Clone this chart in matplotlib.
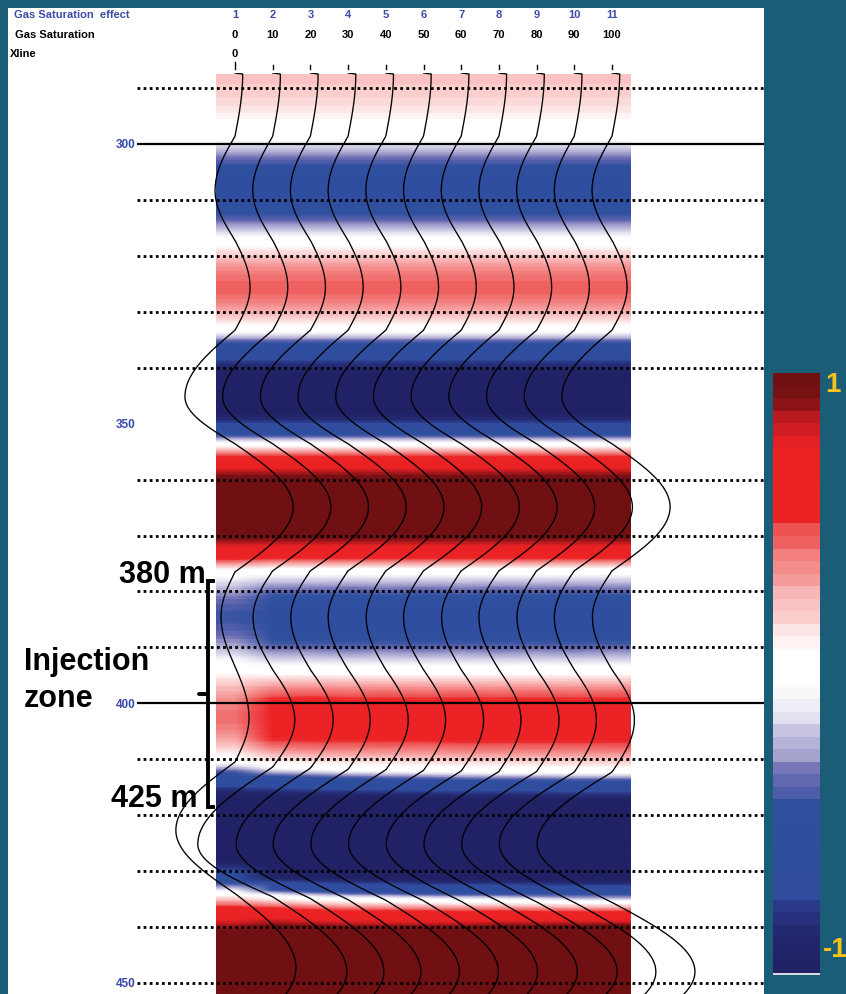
import numpy as np
import matplotlib
matplotlib.use("Agg")
import matplotlib.pyplot as plt
from matplotlib.colors import LinearSegmentedColormap, FuncNorm
from matplotlib.transforms import blended_transform_factory
from matplotlib.lines import Line2D
from matplotlib.patches import Rectangle

# ---------------- data ----------------
trace_no = [1, 2, 3, 4, 5, 6, 7, 8, 9, 10, 11]
gas_saturation = [0, 10, 20, 30, 40, 50, 60, 70, 80, 90, 100]
xline_label = "0"
depth_ticks = [300, 350, 400, 450]
dotted_depths = [290, 310, 320, 330, 340, 360, 370, 380, 390, 410, 420, 430, 440, 450]
solid_depths = [300, 400]

# shallow wavelet (same on every trace): knot depths (m) and amplitudes (extrema / zero crossings)
shallow_depth = [287.4, 298.6, 308.3, 317.2, 325.6, 333.3, 345.2, 353.6, 364.9]
shallow_amp = [0.22, 0.0, -0.57, 0.0, 0.43, 0.0, -1.43, 0.0, 1.66]

# injection zone and below, per trace
zero_a_depth = [376.5, 376.3, 376.3, 376.3, 376.3, 376.3, 376.3, 376.3, 376.3, 376.3, 376.3]
trough_a_depth = [384.5, 384.6, 384.6, 384.6, 384.6, 384.6, 384.6, 384.6, 384.6, 384.6, 384.6]
trough_a_amp = [-0.40, -0.56, -0.56, -0.57, -0.56, -0.57, -0.56, -0.57, -0.56, -0.57, -0.56]
zero_b_depth = [393.4, 394.0, 394.0, 394.0, 394.0, 394.0, 394.0, 394.0, 394.0, 394.0, 394.0]
peak_a_depth = [402.6, 403.0, 403.0, 403.0, 403.0, 403.0, 403.0, 403.0, 403.0, 403.0, 403.0]
peak_a_amp = [0.40, 0.63, 0.65, 0.63, 0.64, 0.63, 0.64, 0.63, 0.64, 0.63, 0.64]
zero_c_depth = [410.5, 411.4, 411.6, 411.8, 411.9, 412.0, 412.1, 412.2, 412.2, 412.3, 412.3]
trough_b_depth = [422.7, 425.2, 425.2, 425.2, 425.2, 425.2, 425.2, 425.2, 425.2, 425.2, 425.2]
trough_b_amp = [-1.69, -2.14, -2.12, -2.14, -2.14, -2.14, -2.14, -2.14, -2.14, -2.14, -2.14]
zero_d_depth = [434.0, 434.6, 434.9, 435.1, 435.2, 435.3, 435.4, 435.4, 435.5, 435.6, 435.6]
peak_b_depth = [447.3, 448.0, 448.0, 448.0, 448.0, 448.0, 448.0, 448.0, 448.0, 448.0, 448.0]
peak_b_amp = [1.74, 2.12, 2.10, 2.08, 2.10, 2.14, 2.18, 2.24, 2.30, 2.33, 2.37]
zero_e_depth = [460.0] * 11

# display gain curve of the colour section (|amplitude| -> colour value)
gain_in = [0.0, 0.1, 0.45, 0.6, 1.0, 1.25, 2.5]
gain_out = [0.0, 0.1, 0.47, 0.62, 0.82, 0.99, 1.0]

# ---------------- helpers ----------------
W, H = 846, 994
TEAL = "#1b5d77"
Z_TOP = 300 + (73 - 144) / 5.593
Z_BOT = 300 + (994 - 144) / 5.593
X_LEFT = 1 + (137 - 235) / 37.7
X_RIGHT = 1 + (764 - 235) / 37.7
GAIN = 35 / 37.7


def fx(x):
    return x / W


def fy(y):
    return 1 - y / H


def wavelet(zk, ak, z):
    out = np.zeros_like(z)
    for i in range(len(zk) - 1):
        z0, z1 = zk[i], zk[i + 1]
        a0, a1 = ak[i], ak[i + 1]
        m = (z >= z0) & (z <= z1)
        t = (z[m] - z0) / (z1 - z0)
        if a1 == 0:
            out[m] = a0 * np.cos(np.pi / 2 * t)
        else:
            out[m] = a1 * np.sin(np.pi / 2 * t)
    return out


def fwd(a):
    a = np.asarray(a, dtype=float)
    return np.sign(a) * np.interp(np.abs(a), gain_in, gain_out)


def inv(c):
    c = np.asarray(c, dtype=float)
    return np.sign(c) * np.interp(np.abs(c), gain_out, gain_in)


nodes = [
    (-1.00, "#212265"), (-0.88, "#24296f"), (-0.82, "#2a3584"), (-0.78, "#2f4c9e"),
    (-0.45, "#3050a0"), (-0.40, "#4c5ca9"), (-0.34, "#7272b6"), (-0.28, "#a09ecb"),
    (-0.20, "#cac8e2"), (-0.12, "#ebebf5"), (-0.06, "#ffffff"), (0.08, "#ffffff"),
    (0.14, "#fee6e6"), (0.22, "#fbcaca"), (0.30, "#f8aaaa"), (0.38, "#f48686"),
    (0.46, "#f06262"), (0.50, "#ee5050"), (0.53, "#ec2426"), (0.80, "#ea2224"),
    (0.86, "#c41c22"), (0.92, "#981418"), (0.97, "#761214"), (1.00, "#701012"),
]
cmap = LinearSegmentedColormap.from_list("seis", [((v + 1) / 2, c) for v, c in nodes], N=64)

plt.rcParams["font.family"] = ["Liberation Sans", "DejaVu Sans"]

fig = plt.figure(figsize=(W / 100, H / 100), dpi=100, facecolor=TEAL)
fig.add_artist(Rectangle((fx(8), 0), fx(764 - 8), 1 - 8 / H, transform=fig.transFigure,
                         facecolor="white", edgecolor="none", zorder=0))

ax = fig.add_axes([fx(137), 0, fx(764 - 137), (994 - 73) / H])
ax.set_facecolor("none")

z = np.linspace(Z_TOP, Z_BOT, 900)
amps = np.zeros((len(z), len(trace_no)))
for i in range(len(trace_no)):
    zk = shallow_depth + [zero_a_depth[i], trough_a_depth[i], zero_b_depth[i], peak_a_depth[i],
                          zero_c_depth[i], trough_b_depth[i], zero_d_depth[i], peak_b_depth[i],
                          zero_e_depth[i]]
    ak = shallow_amp + [0.0, trough_a_amp[i], 0.0, peak_a_amp[i], 0.0, trough_b_amp[i], 0.0,
                        peak_b_amp[i], 0.0]
    amps[:, i] = wavelet(zk, ak, z)

norm = FuncNorm((fwd, inv), vmin=-2.5, vmax=2.5)
ax.imshow(amps, extent=(trace_no[0] - 0.5, trace_no[-1] + 0.5, Z_BOT, Z_TOP), aspect="auto",
          cmap=cmap, norm=norm, interpolation="bilinear", zorder=1)

for d in dotted_depths:
    ax.axhline(d, color="black", lw=2, linestyle=(0, (1, 1.2)), zorder=2)
for d in solid_depths:
    ax.axhline(d, color="black", lw=1.6, zorder=2)

for i, t in enumerate(trace_no):
    ax.plot(t + GAIN * amps[:, i], z, color="black", lw=0.95, zorder=3)

ax.set_xlim(X_LEFT, X_RIGHT)
ax.set_ylim(Z_BOT, Z_TOP)
ax.set_xticks([])
ax.set_yticks(depth_ticks)
ax.set_yticklabels([str(d) for d in depth_ticks], color="#3a48a8", fontsize=8.5, fontweight="bold")
ax.tick_params(axis="y", length=0, pad=1)
for s in ax.spines.values():
    s.set_visible(False)

# header
bt = blended_transform_factory(ax.transData, fig.transFigure)
fig.text(fx(14), fy(15), "Gas Saturation  effect", color="#3c4ca6", fontsize=8, fontweight="bold", va="center")
fig.text(fx(15), fy(35), "Gas Saturation", color="black", fontsize=8, fontweight="bold", va="center")
fig.text(fx(10), fy(54), "Xline", color="black", fontsize=8, fontweight="bold", va="center")
for t, g in zip(trace_no, gas_saturation):
    fig.text(t, fy(15), str(t), transform=bt, color="#3c4ca6", fontsize=8, fontweight="bold",
             ha="center", va="center")
    fig.text(t, fy(35), str(g), transform=bt, color="black", fontsize=8, fontweight="bold",
             ha="center", va="center")
    y0 = 62 if t == 1 else 65
    fig.add_artist(Line2D([t, t], [fy(y0), fy(69)], transform=bt, color="black", lw=1))
fig.text(trace_no[0], fy(54), xline_label, transform=bt, color="black", fontsize=8, fontweight="bold",
         ha="center", va="center")

# injection zone annotation
fig.text(fx(119), fy(583), "380 m", fontsize=22, fontweight="bold", color="black", va="baseline")
fig.text(fx(111), fy(807), "425 m", fontsize=22, fontweight="bold", color="black", va="baseline")
fig.text(fx(24), fy(670), "Injection", fontsize=22, fontweight="bold", color="black", va="baseline")
fig.text(fx(24), fy(707), "zone", fontsize=22, fontweight="bold", color="black", va="baseline")
fig.add_artist(Line2D([fx(213), fx(207.5), fx(207.5), fx(213)], [fy(581), fy(581), fy(807), fy(807)],
                      transform=fig.transFigure, color="black", lw=2.8, solid_joinstyle="miter"))
fig.add_artist(Line2D([fx(199), fx(207)], [fy(694), fy(694)], transform=fig.transFigure,
                      color="black", lw=2.8, solid_capstyle="round"))

# colour bar
cax = fig.add_axes([fx(773), fy(975), fx(820 - 773), (975 - 373) / H])
cax.imshow(np.linspace(1, -1, 48)[:, None], cmap=cmap, vmin=-1, vmax=1, aspect="auto",
           interpolation="nearest")
cax.axhline(47.4, color="white", lw=1.2)
cax.set_xticks([])
cax.set_yticks([])
for s in cax.spines.values():
    s.set_visible(False)
fig.text(fx(825), fy(385), "1", color="#f5c21a", fontsize=20, fontweight="bold", va="center")
fig.text(fx(823), fy(950), "-1", color="#f5c21a", fontsize=20, fontweight="bold", va="center")

fig.savefig("out.png", dpi=100, facecolor=TEAL)
